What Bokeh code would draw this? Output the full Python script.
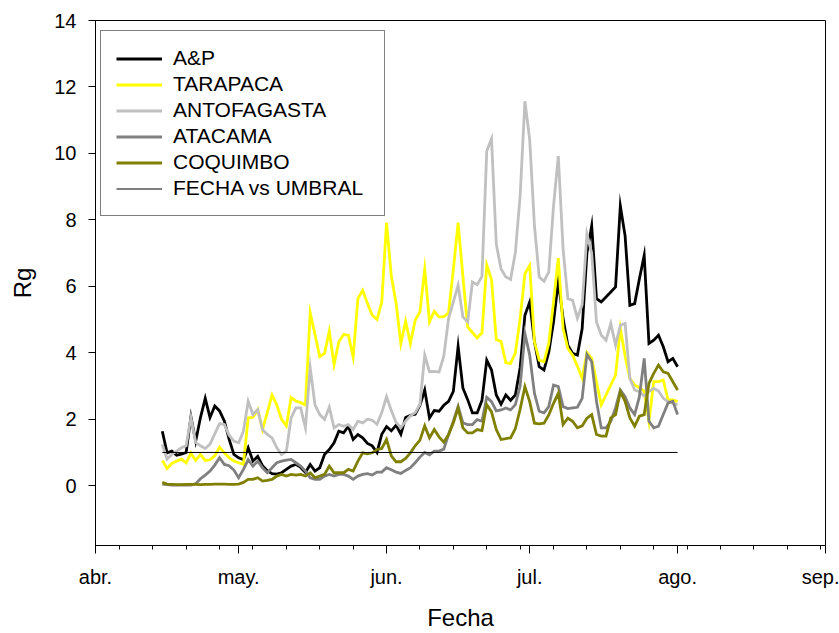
import pandas as pd
from bokeh.plotting import figure
from bokeh.models import Range1d, FixedTicker, Legend, LegendItem, ColumnDataSource
from bokeh.embed import file_html
from bokeh.resources import INLINE

# ---------------- data ----------------
first_day = "2008-04-15"
last_day = "2008-08-01"
dates = pd.date_range(first_day, last_day, freq="D")

ap = [1.64, 0.99, 1.04, 0.92, 0.95, 1.00, 2.07, 1.34, 2.05, 2.63,
      2.05, 2.40, 2.25, 1.95, 1.40, 0.94, 0.84, 0.78, 1.14, 0.74,
      0.88, 0.60, 0.45, 0.36, 0.35, 0.39, 0.49, 0.59, 0.64, 0.55,
      0.40, 0.64, 0.44, 0.54, 0.94, 1.09, 1.29, 1.64, 1.59, 1.79,
      1.39, 1.54, 1.44, 1.27, 1.20, 1.00, 1.55, 1.78, 1.65, 1.82,
      1.55, 2.05, 2.12, 2.15, 2.42, 2.88, 2.04, 2.26, 2.24, 2.42,
      2.54, 2.84, 4.19, 2.94, 2.59, 2.19, 2.19, 2.57, 3.78, 3.48,
      2.73, 2.45, 2.73, 2.57, 2.73, 3.55, 5.13, 5.53, 4.33, 3.58,
      3.48, 4.02, 4.93, 6.15, 5.03, 4.23, 3.98, 3.93, 4.73, 7.00,
      7.82, 5.63, 5.53, 5.68, 5.83, 5.98, 8.42, 7.52, 5.43, 5.48,
      6.23, 6.93, 4.28, 4.38, 4.53, 4.18, 3.73, 3.83, 3.58]

tarapaca = [0.76, 0.52, 0.67, 0.74, 0.80, 0.69, 0.98, 0.76, 0.94, 0.76,
            0.78, 0.90, 1.16, 0.99, 0.84, 0.74, 0.69, 0.64, 2.04, 2.06,
            2.29, 1.69, 2.20, 2.73, 2.43, 2.00, 1.80, 2.65, 2.55, 2.50,
            2.43, 5.20, 4.55, 3.88, 3.98, 4.65, 3.65, 4.33, 4.55, 4.53,
            3.88, 5.63, 5.88, 5.48, 5.13, 5.00, 5.53, 7.92, 6.30, 5.50,
            4.28, 4.95, 4.28, 4.98, 5.23, 6.51, 4.93, 5.25, 5.08, 5.08,
            5.20, 6.50, 7.92, 6.30, 4.78, 4.61, 4.45, 4.60, 6.64, 6.20,
            4.40, 4.34, 3.70, 3.68, 4.00, 5.03, 6.38, 6.63, 4.33, 3.78,
            3.73, 4.28, 5.53, 6.85, 4.73, 4.13, 3.93, 3.60, 3.23, 4.00,
            3.83, 3.13, 2.43, 2.73, 3.03, 3.33, 4.73, 3.90, 3.23, 3.03,
            2.95, 2.85, 1.94, 3.13, 3.13, 3.18, 2.58, 2.58, 2.53]

antofagasta = [1.24, 0.80, 0.94, 1.04, 1.14, 1.20, 2.05, 1.30, 1.20, 1.12,
               1.25, 1.56, 1.87, 1.84, 1.52, 1.34, 1.29, 1.64, 2.54, 2.14,
               2.29, 1.69, 1.54, 1.44, 1.14, 0.94, 1.04, 2.04, 2.34, 2.34,
               1.74, 3.55, 2.43, 2.14, 1.99, 2.36, 1.74, 1.84, 1.79, 1.84,
               1.69, 1.94, 1.89, 2.00, 1.97, 1.85, 2.20, 2.68, 2.26, 1.90,
               1.75, 1.94, 2.10, 2.20, 2.45, 3.93, 3.43, 3.44, 3.42, 3.90,
               5.03, 5.53, 6.03, 5.08, 4.93, 6.13, 6.05, 6.30, 10.07, 10.44,
               7.27, 6.52, 6.28, 6.21, 7.02, 8.72, 11.57, 10.42, 7.82, 6.28,
               6.15, 6.43, 8.42, 9.92, 7.12, 5.63, 5.58, 5.04, 5.45, 7.57,
               7.00, 4.93, 4.53, 4.38, 4.88, 4.23, 4.83, 4.88, 3.23, 2.88,
               2.83, 2.70, 2.83, 2.93, 2.85, 2.63, 2.53, 2.48, 2.43]

atacama = [0.05, 0.03, 0.02, 0.02, 0.02, 0.02, 0.02, 0.06, 0.21, 0.32,
           0.44, 0.62, 0.84, 0.64, 0.60, 0.47, 0.24, 0.49, 0.78, 0.59,
           0.74, 0.54, 0.39, 0.54, 0.69, 0.74, 0.77, 0.79, 0.69, 0.59,
           0.44, 0.24, 0.19, 0.19, 0.29, 0.34, 0.29, 0.34, 0.34, 0.29,
           0.19, 0.29, 0.34, 0.36, 0.32, 0.41, 0.41, 0.54, 0.48, 0.41,
           0.37, 0.46, 0.54, 0.69, 0.86, 1.00, 0.93, 1.04, 1.04, 1.10,
           1.54, 1.94, 2.39, 1.89, 1.84, 1.84, 1.99, 1.94, 2.66, 2.53,
           2.25, 2.28, 2.34, 2.28, 2.44, 3.00, 4.58, 3.93, 2.78, 2.24,
           2.19, 2.38, 3.03, 2.98, 2.38, 2.32, 2.34, 2.36, 2.63, 3.95,
           3.73, 2.54, 1.74, 1.74, 1.94, 2.34, 2.88, 2.68, 2.34, 2.14,
           2.68, 3.83, 1.94, 1.74, 1.79, 2.14, 2.49, 2.54, 2.14]

coquimbo = [0.10, 0.05, 0.04, 0.03, 0.03, 0.04, 0.04, 0.04, 0.03, 0.04,
            0.04, 0.05, 0.05, 0.05, 0.04, 0.04, 0.05, 0.10, 0.19, 0.19,
            0.24, 0.14, 0.16, 0.19, 0.29, 0.34, 0.29, 0.34, 0.32, 0.34,
            0.29, 0.39, 0.24, 0.29, 0.34, 0.59, 0.39, 0.39, 0.39, 0.49,
            0.44, 0.74, 0.99, 0.96, 0.99, 1.09, 1.12, 1.39, 0.90, 0.72,
            0.72, 0.82, 0.99, 1.20, 1.37, 1.80, 1.44, 1.69, 1.47, 1.31,
            1.54, 1.89, 2.34, 1.74, 1.59, 1.59, 1.69, 1.66, 2.44, 2.22,
            1.69, 1.39, 1.42, 1.44, 1.72, 2.30, 2.98, 2.53, 1.88, 1.86,
            1.88, 2.13, 2.48, 2.78, 1.84, 2.03, 1.94, 1.74, 1.80, 2.03,
            2.14, 1.54, 1.49, 1.49, 2.04, 2.14, 2.83, 2.54, 2.04, 1.79,
            2.09, 2.14, 3.08, 3.38, 3.63, 3.43, 3.38, 3.13, 2.88]

umbral_dates = ["2008-04-15", "2008-08-01"]
umbral = [1.0, 1.0]

month_starts = ["2008-04-01", "2008-05-01", "2008-06-01",
                "2008-07-01", "2008-08-01", "2008-09-01"]
month_labels = ["abr.", "may.", "jun.", "jul.", "ago.", "sep."]
week_starts = pd.date_range("2008-04-06", "2008-08-31", freq="7D")
y_ticks = [0, 2, 4, 6, 8, 10, 12, 14]

series_names = ["A&P", "TARAPACA", "ANTOFAGASTA", "ATACAMA", "COQUIMBO"]
series_colors = ["#000000", "#ffff00", "#c0c0c0", "#808080", "#808000"]


def ms(d):
    return pd.Timestamp(d).timestamp() * 1000.0


FONT = "Liberation Sans"
x_start, x_end = ms(month_starts[0]), ms(month_starts[-1])

p = figure(width=839, height=633, output_backend="svg", toolbar_location=None,
           x_axis_type="datetime",
           x_range=Range1d(x_start, x_end),
           y_range=Range1d(-1.8, 14),
           min_border_left=95, min_border_right=14, min_border_top=20,
           min_border_bottom=85)

p.background_fill_color = "white"
p.border_fill_color = "white"
p.outline_line_color = "black"
p.outline_line_width = 1
p.grid.visible = False

src = ColumnDataSource(dict(date=dates, ap=ap, tarapaca=tarapaca,
                            antofagasta=antofagasta, atacama=atacama,
                            coquimbo=coquimbo))
cols = ["ap", "tarapaca", "antofagasta", "atacama", "coquimbo"]
items = []
for col, name, color in zip(cols, series_names, series_colors):
    r = p.line("date", col, source=src, line_color=color, line_width=2.8,
               line_join="miter")
    items.append(LegendItem(label=name, renderers=[r]))

ur = p.line(pd.to_datetime(umbral_dates), umbral, line_color="black", line_width=1)
items.append(LegendItem(label="FECHA vs UMBRAL", renderers=[ur]))

legend = Legend(items=items, location=(5, 329))
legend.border_line_color = "black"
legend.border_line_width = 1
legend.background_fill_color = "white"
legend.background_fill_alpha = 1
legend.label_text_font = FONT
legend.label_text_font_size = "21px"
legend.label_text_color = "black"
legend.glyph_width = 46
legend.glyph_height = 23
legend.label_height = 23
legend.label_width = 196
legend.spacing = 2
legend.padding = 15
legend.label_standoff = 11
legend.margin = 0
p.add_layout(legend, "center")

# x axis
xa = p.xaxis[0]
xa.ticker = FixedTicker(ticks=[ms(d) for d in month_starts],
                        minor_ticks=[ms(d) for d in week_starts])
xa.major_label_overrides = {ms(d): lab for d, lab in zip(month_starts, month_labels)}
xa.axis_label = "Fecha"
xa.major_tick_out = 8
xa.minor_tick_out = 4
xa.major_label_standoff = 12
xa.axis_label_standoff = 13

# y axis
ya = p.yaxis[0]
ya.ticker = FixedTicker(ticks=y_ticks, minor_ticks=[])
ya.axis_label = "Rg"
ya.major_tick_out = 7
ya.major_label_standoff = 12
ya.axis_label_standoff = 15

for ax in (xa, ya):
    ax.axis_line_color = "black"
    ax.axis_line_width = 1
    ax.major_tick_line_color = "black"
    ax.minor_tick_line_color = "black"
    ax.major_tick_in = 0
    ax.minor_tick_in = 0
    ax.major_label_text_font = FONT
    ax.major_label_text_font_size = "20px"
    ax.major_label_text_color = "black"
    ax.axis_label_text_font = FONT
    ax.axis_label_text_font_size = "24px"
    ax.axis_label_text_font_style = "normal"
    ax.axis_label_text_color = "black"

open("out.html", "w").write(file_html(p, INLINE))
